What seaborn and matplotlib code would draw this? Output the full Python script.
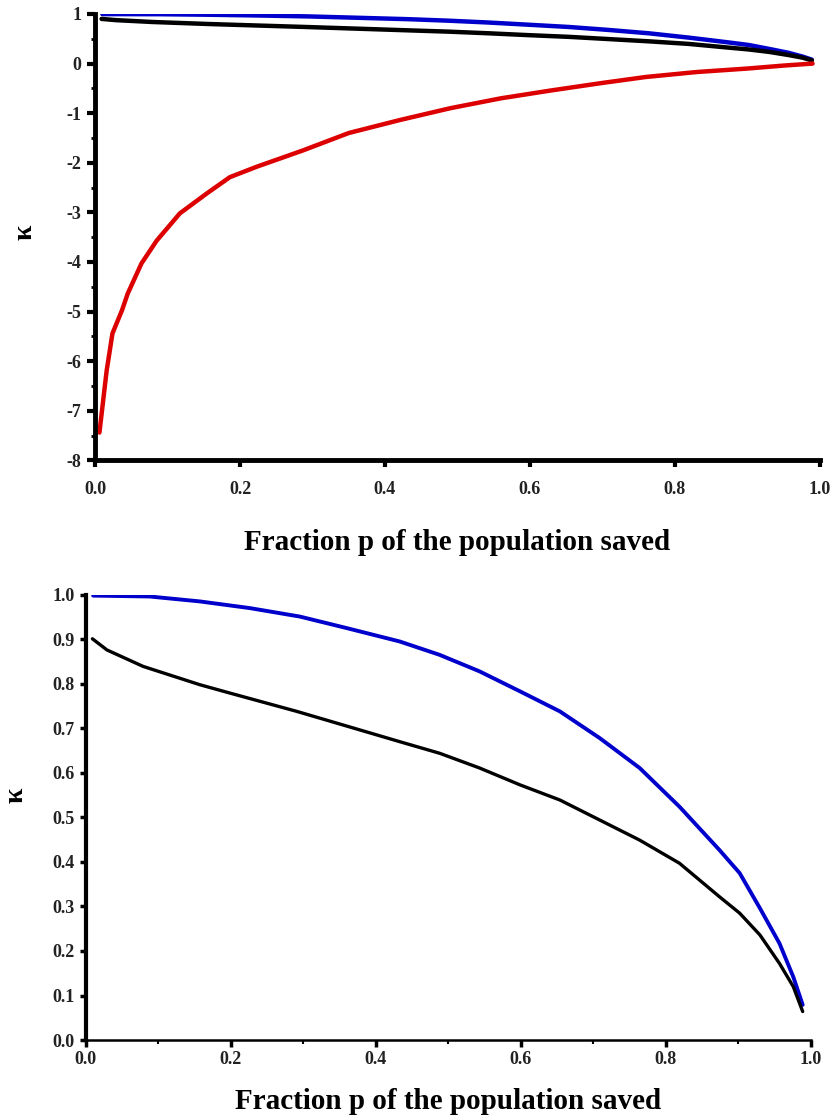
import numpy as np
import pandas as pd
import matplotlib
matplotlib.use("Agg")
import matplotlib.pyplot as plt
import seaborn as sns
from matplotlib.ticker import MultipleLocator

sns.set_theme(style="white")
plt.rcParams['font.family'] = ['Liberation Serif', 'DejaVu Serif']
plt.rcParams['font.weight'] = 'bold'

# --- data ---
p_blue = [0.010, 0.088, 0.157, 0.226, 0.295, 0.36, 0.433, 0.488, 0.543, 0.599, 0.654,
          0.709, 0.764, 0.819, 0.874, 0.902, 0.930, 0.957, 0.976, 0.989]
k_blue = [0.998, 0.996, 0.985, 0.970, 0.951, 0.925, 0.895, 0.865, 0.828, 0.783, 0.738,
          0.678, 0.611, 0.524, 0.427, 0.375, 0.296, 0.217, 0.142, 0.079]
p_black = [0.009, 0.029, 0.079, 0.157, 0.199, 0.291, 0.36, 0.433, 0.488, 0.543, 0.599,
           0.654, 0.709, 0.764, 0.819, 0.874, 0.902, 0.930, 0.957, 0.976, 0.989]
k_black = [0.901, 0.876, 0.839, 0.798, 0.779, 0.738, 0.705, 0.670, 0.644, 0.611, 0.573,
           0.539, 0.494, 0.449, 0.397, 0.322, 0.285, 0.236, 0.172, 0.120, 0.064]
p_red = [0.006, 0.016, 0.024, 0.037, 0.045, 0.064, 0.085, 0.117, 0.154, 0.186, 0.223,
         0.287, 0.35, 0.42, 0.49, 0.56, 0.63, 0.70, 0.76, 0.83, 0.90, 0.95, 0.99]
k_red = [-7.44, -6.19, -5.44, -4.98, -4.64, -4.03, -3.57, -3.02, -2.62, -2.29, -2.08,
         -1.75, -1.40, -1.14, -0.90, -0.70, -0.54, -0.39, -0.27, -0.17, -0.10, -0.04, 0.0]

xlabel = "Fraction p of the population saved"
ylabel = "κ"

fig = plt.figure(figsize=(8.34, 11.2), dpi=100)
ax1 = fig.add_axes([0.114, 0.589, 0.869, 0.3985])
ax2 = fig.add_axes([0.103, 0.0714, 0.869, 0.3976])

def style(ax, lw_left, lw_bottom):
    for s in ['top', 'right']:
        ax.spines[s].set_visible(False)
    ax.spines['left'].set_linewidth(lw_left)
    ax.spines['bottom'].set_linewidth(lw_bottom)
    ax.spines['left'].set_color('black')
    ax.spines['bottom'].set_color('black')
    ax.tick_params(which='both', direction='out', color='black', left=True, bottom=True)
    ax.grid(False)
    for lab in ax.get_xticklabels() + ax.get_yticklabels():
        lab.set_fontweight('bold')
        lab.set_fontsize(13)
        lab.set_color('#222222')

# top panel
sns.lineplot(x=p_blue, y=k_blue, ax=ax1, color='#0000cc', linewidth=3.2)
sns.lineplot(x=p_black, y=k_black, ax=ax1, color='black', linewidth=3.2)
sns.lineplot(x=p_red, y=k_red, ax=ax1, color='#dd0000', linewidth=3.2)
ax1.set_xlim(0.0, 1.0)
ax1.set_ylim(-8, 1)
ax1.set_xticks([0.0, 0.2, 0.4, 0.6, 0.8, 1.0])
ax1.set_xticklabels(["0.0", "0.2", "0.4", "0.6", "0.8", "1.0"])
ax1.set_yticks(list(range(-8, 2)))
ax1.set_yticklabels([str(v) for v in range(-8, 2)])
ax1.yaxis.set_minor_locator(MultipleLocator(0.5))
ax1.tick_params(axis='y', which='major', length=6, width=3, pad=4)
ax1.tick_params(axis='y', which='minor', length=3, width=2)
ax1.tick_params(axis='x', which='major', length=5, width=3, pad=10)
style(ax1, 3.5, 3.5)
ax1.set_xlabel(xlabel, fontsize=21, fontweight='bold', labelpad=22, color='black')
ax1.set_ylabel(ylabel, fontsize=20, fontweight='bold', va='center', color='black')
ax1.yaxis.set_label_coords(-0.0966, 0.511)

# bottom panel
sns.lineplot(x=p_blue, y=k_blue, ax=ax2, color='#0000cc', linewidth=2.8)
sns.lineplot(x=p_black, y=k_black, ax=ax2, color='black', linewidth=2.4)
ax2.set_xlim(0.0, 1.0)
ax2.set_ylim(0.0, 1.0)
ax2.set_xticks([0.0, 0.2, 0.4, 0.6, 0.8, 1.0])
ax2.set_xticklabels(["0.0", "0.2", "0.4", "0.6", "0.8", "1.0"])
ax2.set_yticks([i / 10 for i in range(11)])
ax2.set_yticklabels([f"{i/10:.1f}" for i in range(11)])
ax2.xaxis.set_minor_locator(MultipleLocator(0.1))
ax2.tick_params(axis='y', which='major', length=4, width=2.5, pad=4)
ax2.tick_params(axis='x', which='major', length=5, width=2.5, pad=3)
ax2.tick_params(axis='x', which='minor', length=3, width=1.5)
style(ax2, 3, 1.8)
ax2.set_xlabel(xlabel, fontsize=21, fontweight='bold', labelpad=14, color='black')
ax2.set_ylabel(ylabel, fontsize=20, fontweight='bold', va='center', color='black')
ax2.yaxis.set_label_coords(-0.0966, 0.55)

fig.savefig("out.png", dpi=100)
